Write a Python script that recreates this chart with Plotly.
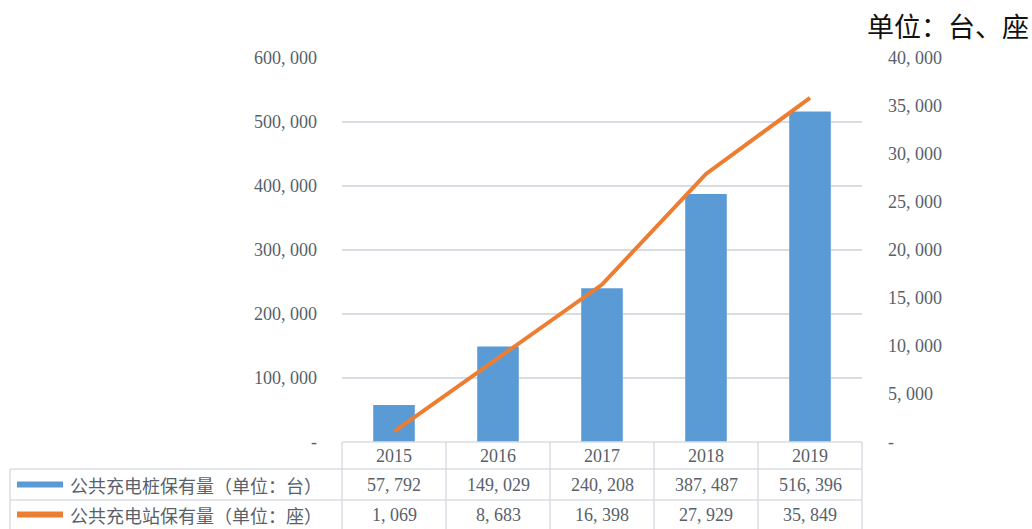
import plotly.graph_objects as go

years = ["2015", "2016", "2017", "2018", "2019"]
piles = [57792, 149029, 240208, 387487, 516396]
stations = [1069, 8683, 16398, 27929, 35849]
pile_name = "公共充电桩保有量（单位：台）"
station_name = "公共充电站保有量（单位：座）"
left_ticks = [0, 100000, 200000, 300000, 400000, 500000, 600000]
right_ticks = [0, 5000, 10000, 15000, 20000, 25000, 30000, 35000, 40000]
unit_text = "单位：台、座"


def fmt(v):
    return "-" if v == 0 else f"{v:,}".replace(",", ", ")


W, H = 1032, 529
L, R, T, B = 342, 862, 58, 442
pw, ph = R - L, B - T


def px(x):
    return (x - L) / pw


def py(y):
    return (B - y) / ph


NUM_FONT = "Liberation Serif, Noto Sans CJK SC"
CJK_FONT = "Noto Sans CJK SC"
TXT = "#595f6b"
GRID = "#d9dde3"

fig = go.Figure()
fig.add_trace(go.Bar(x=years, y=piles, name=pile_name, width=0.4,
                     marker=dict(color="#5b9bd5", line=dict(width=0)), yaxis="y"))
fig.add_trace(go.Scatter(x=years, y=stations, name=station_name, mode="lines",
                         line=dict(color="#ed7d31", width=4), yaxis="y2"))

shapes = []
ann = []
line = dict(color=GRID, width=1.5)
shapes.append(dict(type="line", xref="paper", yref="paper", x0=0, x1=1, y0=0, y1=0, line=line))
for yy in (469, 500):
    shapes.append(dict(type="line", xref="paper", yref="paper", x0=px(10), x1=1, y0=py(yy), y1=py(yy), line=line))
shapes.append(dict(type="line", xref="paper", yref="paper", x0=px(10), x1=px(10), y0=py(469), y1=py(530), line=line))
for i in range(len(years) + 1):
    xx = i / len(years)
    shapes.append(dict(type="line", xref="paper", yref="paper", x0=xx, x1=xx, y0=0, y1=py(530), line=line))
shapes.append(dict(type="line", xref="paper", yref="paper", x0=px(17), x1=px(63), y0=py(484.5), y1=py(484.5),
                   line=dict(color="#5b9bd5", width=6)))
shapes.append(dict(type="line", xref="paper", yref="paper", x0=px(17), x1=px(63), y0=py(514.5), y1=py(514.5),
                   line=dict(color="#ed7d31", width=6)))

for i, (yr, p, s) in enumerate(zip(years, piles, stations)):
    for text, yy in ((yr, 456), (fmt(p), 485), (fmt(s), 515)):
        ann.append(dict(x=i, xref="x", xanchor="center", y=py(yy), yref="paper", yanchor="middle",
                        text=text, showarrow=False, font=dict(family=NUM_FONT, size=18, color=TXT)))
for text, yy in ((pile_name, 485), (station_name, 515)):
    ann.append(dict(x=px(68), xref="paper", xanchor="left", y=py(yy), yref="paper", yanchor="middle",
                    text=text, showarrow=False, font=dict(family=CJK_FONT, size=18, color=TXT)))
ann.append(dict(x=px(1031), xref="paper", xanchor="right", y=py(25), yref="paper", yanchor="middle",
                text=unit_text, showarrow=False, font=dict(family=CJK_FONT, size=27, color="#111111")))

fig.update_layout(
    width=W, height=H,
    margin=dict(l=L, r=W - R, t=T, b=H - B, pad=0),
    paper_bgcolor="white", plot_bgcolor="white",
    showlegend=False,
    xaxis=dict(type="category", range=[-0.5, len(years) - 0.5], showticklabels=False, showgrid=False,
               zeroline=False, showline=False, ticks=""),
    yaxis=dict(range=[0, 600000], tickvals=left_ticks, ticktext=[fmt(v) for v in left_ticks],
               showgrid=True, gridcolor=GRID, gridwidth=1.5, zeroline=False, showline=False,
               ticks="", ticklabelstandoff=24,
               tickfont=dict(family=NUM_FONT, size=18, color=TXT)),
    yaxis2=dict(range=[0, 40000], overlaying="y", side="right", tickvals=right_ticks,
                ticktext=[fmt(v) for v in right_ticks], showgrid=False, zeroline=False, showline=False,
                ticks="", ticklabelstandoff=25,
                tickfont=dict(family=NUM_FONT, size=18, color=TXT)),
    shapes=shapes,
    annotations=ann,
)

fig.write_html("out.html")
